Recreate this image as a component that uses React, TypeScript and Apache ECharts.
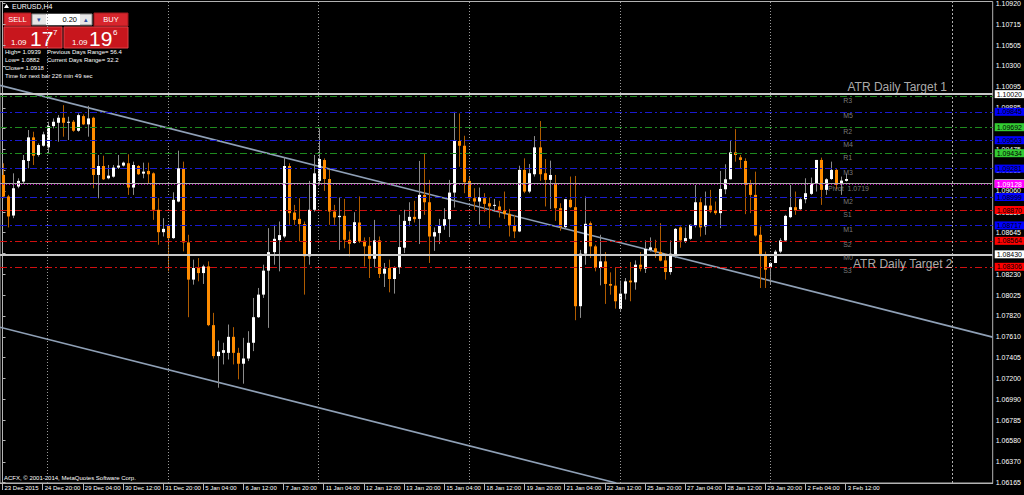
import React, { useEffect, useRef } from "react";
import * as echarts from "echarts";

// ---------- DATA (EURUSD H4 candles) ----------
const opens = [
  1.09218, 1.09004, 1.08815, 1.09103, 1.09152, 1.09357, 1.09591, 1.09416, 1.09508, 1.09492,
  1.09703, 1.09736, 1.09786, 1.09739, 1.09746, 1.09657, 1.09802, 1.0972, 1.09786, 1.09218,
  1.09307, 1.09185, 1.09201, 1.09291, 1.09311, 1.09334, 1.09093, 1.09307, 1.09231, 1.09258,
  1.09234, 1.08872, 1.0865, 1.08713, 1.08591, 1.08954, 1.09284, 1.08548, 1.08179, 1.08294,
  1.08244, 1.0831, 1.07727, 1.0742, 1.07452, 1.07452, 1.07611, 1.07452, 1.07344, 1.07396,
  1.07552, 1.07806, 1.0803, 1.08268, 1.08452, 1.08571, 1.08607, 1.09307, 1.08845, 1.08782,
  1.0873, 1.0841, 1.08872, 1.09159, 1.09366, 1.09178, 1.08855, 1.08799, 1.08812, 1.08574,
  1.08542, 1.08746, 1.08565, 1.08515, 1.08386, 1.08568, 1.08238, 1.08294, 1.08185, 1.08301,
  1.08496, 1.08762, 1.08802, 1.08782, 1.0902, 1.08947, 1.08607, 1.08641, 1.08713, 1.08779,
  1.09043, 1.09555, 1.09508, 1.09159, 1.08987, 1.08954, 1.08987, 1.08937, 1.08914, 1.08905,
  1.08865, 1.08832, 1.08713, 1.08657, 1.09268, 1.09053, 1.09225, 1.09492, 1.09235, 1.09169,
  1.09129, 1.08888, 1.087, 1.08971, 1.08898, 1.07915, 1.08436, 1.08739, 1.08509, 1.08294,
  1.0836, 1.08136, 1.08119, 1.07888, 1.0804, 1.08169, 1.08152, 1.08327, 1.08287, 1.08474,
  1.0849, 1.08452, 1.0837, 1.08254, 1.08426, 1.08697, 1.08558, 1.08584, 1.08713, 1.08947,
  1.08707, 1.08914, 1.08865, 1.08839, 1.09076, 1.09175, 1.09442, 1.09393, 1.09357, 1.09126,
  1.0902, 1.08624, 1.08426, 1.08294, 1.08344, 1.08457, 1.08568, 1.08799, 1.08898, 1.08878,
  1.08977, 1.0903, 1.09136, 1.09367, 1.0907, 1.09178, 1.09268, 1.09126, 1.09159,
];
const highs = [
  1.09334, 1.0902, 1.09234, 1.09185, 1.09416, 1.09664, 1.09647, 1.09531, 1.09647, 1.09746,
  1.09779, 1.09812, 1.09911, 1.09796, 1.09763, 1.09829, 1.09819, 1.09904, 1.09796, 1.09416,
  1.09409, 1.09317, 1.09317, 1.09416, 1.0935, 1.09423, 1.0935, 1.09317, 1.0934, 1.0934,
  1.09244, 1.08987, 1.08789, 1.08723, 1.09046, 1.09459, 1.0935, 1.08624, 1.08377, 1.08393,
  1.08327, 1.0836, 1.07849, 1.07575, 1.07552, 1.07733, 1.07707, 1.07502, 1.07601, 1.07667,
  1.07997, 1.08096, 1.08327, 1.0869, 1.08723, 1.08756, 1.09393, 1.09334, 1.08921, 1.08987,
  1.08756, 1.09159, 1.09416, 1.0968, 1.09383, 1.09268, 1.08921, 1.08994, 1.0898, 1.08657,
  1.08848, 1.09004, 1.08598, 1.08601, 1.08772, 1.08607, 1.08344, 1.08377, 1.0831, 1.08822,
  1.08872, 1.08947, 1.08961, 1.09357, 1.09426, 1.09169, 1.08697, 1.08782, 1.08888, 1.09169,
  1.09845, 1.09829, 1.09607, 1.09202, 1.09086, 1.09093, 1.09037, 1.08994, 1.0898, 1.08961,
  1.09053, 1.08881, 1.08822, 1.0931, 1.09383, 1.09327, 1.09604, 1.09753, 1.09376, 1.0936,
  1.09218, 1.08937, 1.0898, 1.09202, 1.09208, 1.08474, 1.09004, 1.08756, 1.08525, 1.08624,
  1.08452, 1.08251, 1.08294, 1.08169, 1.08195, 1.08353, 1.0837, 1.08452, 1.08568, 1.08598,
  1.08574, 1.08739, 1.08442, 1.08568, 1.0869, 1.08707, 1.08697, 1.08726, 1.09119, 1.08987,
  1.09053, 1.0907, 1.08954, 1.09258, 1.09324, 1.09565, 1.09673, 1.09416, 1.09383, 1.09169,
  1.09251, 1.08707, 1.08457, 1.08353, 1.08474, 1.08591, 1.08822, 1.09119, 1.09053, 1.08987,
  1.09185, 1.09192, 1.09367, 1.0939, 1.09185, 1.0935, 1.09277, 1.09202, 1.09228,
];
const lows = [
  1.08987, 1.08697, 1.08789, 1.09086, 1.09135, 1.09284, 1.09317, 1.094, 1.09499, 1.09432,
  1.0968, 1.09548, 1.09598, 1.09565, 1.09647, 1.09647, 1.09713, 1.09598, 1.09086, 1.08987,
  1.09168, 1.09175, 1.09192, 1.09277, 1.09301, 1.0902, 1.0902, 1.09218, 1.09185, 1.09135,
  1.08772, 1.08525, 1.08607, 1.08261, 1.08584, 1.08947, 1.08459, 1.07806, 1.08129, 1.08162,
  1.08136, 1.07717, 1.07396, 1.07106, 1.07337, 1.07386, 1.07337, 1.07189, 1.07146, 1.0737,
  1.07469, 1.07799, 1.07997, 1.077, 1.08327, 1.08261, 1.08591, 1.08723, 1.08723, 1.08558,
  1.0803, 1.08327, 1.08855, 1.09119, 1.0906, 1.08723, 1.08723, 1.08474, 1.0849, 1.0841,
  1.08535, 1.08542, 1.0831, 1.08195, 1.08301, 1.08195, 1.08106, 1.08053, 1.0804, 1.08235,
  1.08442, 1.08707, 1.08746, 1.08532, 1.08822, 1.08344, 1.08464, 1.08532, 1.08674, 1.08601,
  1.08895, 1.093, 1.09037, 1.08971, 1.08872, 1.08726, 1.08848, 1.0869, 1.08855, 1.08796,
  1.08782, 1.08607, 1.08591, 1.0865, 1.09037, 1.09037, 1.09202, 1.09159, 1.08905, 1.08881,
  1.08762, 1.08664, 1.0869, 1.08888, 1.07776, 1.07799, 1.08327, 1.08393, 1.08261, 1.08122,
  1.07938, 1.0803, 1.07891, 1.07865, 1.07981, 1.07964, 1.08079, 1.08261, 1.08245, 1.08457,
  1.08393, 1.0836, 1.08179, 1.08228, 1.08393, 1.08496, 1.08542, 1.08574, 1.08697, 1.08607,
  1.08624, 1.08839, 1.08822, 1.0869, 1.09027, 1.09175, 1.0935, 1.09277, 1.08829, 1.08839,
  1.08607, 1.08096, 1.08096, 1.08136, 1.08344, 1.08442, 1.08558, 1.08789, 1.08822, 1.08872,
  1.08937, 1.0902, 1.09053, 1.08921, 1.0902, 1.09169, 1.09079, 1.0902, 1.09152,
];
const closes = [
  1.09004, 1.08806, 1.09086, 1.09159, 1.09366, 1.09591, 1.09409, 1.09515, 1.09621, 1.09703,
  1.09746, 1.09786, 1.09736, 1.09746, 1.09657, 1.09812, 1.0972, 1.09779, 1.09218, 1.09307,
  1.09175, 1.09211, 1.09291, 1.09311, 1.0934, 1.09093, 1.09317, 1.09225, 1.09251, 1.09225,
  1.08872, 1.0865, 1.08683, 1.08591, 1.08971, 1.09284, 1.08548, 1.08179, 1.08294, 1.08244,
  1.0831, 1.07727, 1.0742, 1.07463, 1.07479, 1.07611, 1.07452, 1.07344, 1.07396, 1.07552,
  1.07806, 1.0803, 1.08268, 1.08452, 1.08584, 1.08621, 1.09307, 1.08839, 1.08772, 1.0873,
  1.0841, 1.08872, 1.09234, 1.09376, 1.09178, 1.08855, 1.08796, 1.08812, 1.08574, 1.08535,
  1.08749, 1.08558, 1.08509, 1.08386, 1.08568, 1.08235, 1.08287, 1.08185, 1.08304, 1.08502,
  1.08762, 1.08802, 1.08779, 1.0902, 1.08947, 1.08607, 1.0865, 1.08716, 1.08779, 1.09043,
  1.09555, 1.09508, 1.09145, 1.08987, 1.08954, 1.08997, 1.08931, 1.08905, 1.08921, 1.08865,
  1.08829, 1.08716, 1.08657, 1.09268, 1.09053, 1.09235, 1.09492, 1.09225, 1.09169, 1.09218,
  1.08888, 1.087, 1.08977, 1.08898, 1.07915, 1.08436, 1.08733, 1.08509, 1.08294, 1.0836,
  1.08136, 1.08119, 1.07964, 1.0804, 1.08162, 1.08152, 1.08327, 1.08287, 1.08483, 1.08499,
  1.08452, 1.08367, 1.08254, 1.08436, 1.08683, 1.08568, 1.08591, 1.08723, 1.08947, 1.08697,
  1.08914, 1.08855, 1.08839, 1.09079, 1.09175, 1.09442, 1.09416, 1.09367, 1.09119, 1.0902,
  1.08617, 1.08426, 1.08277, 1.08344, 1.08457, 1.08568, 1.08812, 1.08898, 1.08865, 1.08977,
  1.09037, 1.09136, 1.09367, 1.0907, 1.09175, 1.09268, 1.09119, 1.09162, 1.09178,
];

const dateLabels = [
  "23 Dec 2015", "24 Dec 20:00", "29 Dec 04:00", "30 Dec 12:00", "31 Dec 20:00", "5 Jan 04:00",
  "6 Jan 12:00", "7 Jan 20:00", "11 Jan 04:00", "12 Jan 12:00", "13 Jan 20:00", "15 Jan 04:00",
  "18 Jan 12:00", "19 Jan 20:00", "21 Jan 04:00", "22 Jan 12:00", "25 Jan 20:00", "27 Jan 04:00",
  "28 Jan 12:00", "29 Jan 20:00", "2 Feb 04:00", "3 Feb 12:00",
];
const barsPerDateLabel = 8;

const yTickValues = [
  1.1092, 1.10715, 1.10505, 1.103, 1.10095, 1.09885, 1.0968, 1.09475, 1.09265, 1.0906, 1.0885,
  1.08645, 1.0844, 1.0823, 1.08025, 1.0782, 1.0761, 1.07405, 1.072, 1.0699, 1.06785, 1.0658,
  1.0637, 1.06165,
];

const pivotNames = ["R3", "M5", "R2", "M4", "R1", "M3", "Pivot  1.0719", "M2", "S1", "M1", "S2", "M0", "S3"];
const pivotValues = [1.09998, 1.09845, 1.09692, 1.09563, 1.09434, 1.09281, 1.09128, 1.08999, 1.0887, 1.08717, 1.08564, 1.08435, 1.08306];
const pivotKinds = ["R", "M", "R", "M", "R", "M", "P", "M", "S", "M", "S", "M", "S"];
const pivotTagShown = [false, true, true, true, true, true, true, true, true, true, true, false, true];

const atrNames = ["ATR Daily Target 1", "ATR Daily Target 2"];
const atrValues = [1.1002, 1.0843];
const bidPrice = 1.09135;

const weekSeparatorBars = [9, 33, 63, 93, 123, 153];
const extraVerticalBar = 189.2;

const upperChannel = [[-0.5, 1.10107], [197.3, 1.07608]];
const lowerChannel = [[-0.5, 1.07707], [122.3, 1.0616]];

// ---------- LAYOUT / STYLE ----------
const X_MIN = -0.5;
const X_MAX = 197.3;
const Y_MIN = 1.0616;
const Y_MAX = 1.1094;
const FONT = '"Liberation Sans", Arial, sans-serif';

const kindLine: Record<string, string> = { R: "#1f8a1f", M: "#1a1ad0", S: "#d01010", P: "#c000c0" };
const kindTag: Record<string, string> = { R: "#33cc33", M: "#0000ff", S: "#ff0000", P: "#ff00ff" };
const kindTagText: Record<string, string> = { R: "#000000", M: "#000000", S: "#000000", P: "#ffffff" };

export default function App() {
  const ref = useRef<HTMLDivElement>(null);

  useEffect(() => {
    if (!ref.current) return;
    const chart = echarts.init(ref.current, undefined, { renderer: "svg" });

    const candleData = opens.map((o, i) => [i, o, highs[i], lows[i], closes[i]]);
    const dateIdx = dateLabels.map((_, k) => k * barsPerDateLabel);

    const tag = (v: number, bg: string, fg: string, show = true) => ({
      show,
      position: "end",
      distance: 2,
      formatter: v.toFixed(5),
      backgroundColor: bg,
      color: fg,
      fontSize: 7,
      fontFamily: FONT,
      padding: [1, 2, 0, 2],
    });

    const hLines: any[] = [];
    pivotValues.forEach((v, k) => {
      const kind = pivotKinds[k];
      hLines.push({
        yAxis: v,
        lineStyle: {
          color: kindLine[kind],
          width: 1,
          type: kind === "P" ? [1, 2] : [7, 3, 2, 3],
        },
        label: tag(v, kindTag[kind], kindTagText[kind], pivotTagShown[k]),
      });
    });
    hLines.push({
      yAxis: bidPrice,
      lineStyle: { color: "#a8a8a8", width: 1, type: "solid" },
      label: tag(bidPrice, "#ffffff", "#000000"),
    });
    // pivot tag drawn again above bid tag
    hLines.push({
      yAxis: pivotValues[6],
      lineStyle: { color: kindLine.P, width: 1, type: [1, 2] },
      label: tag(pivotValues[6], kindTag.P, kindTagText.P),
    });
    atrValues.forEach((v) => {
      hLines.push({
        yAxis: v,
        lineStyle: { color: "#c8c8c8", width: 2, type: "solid" },
        label: tag(v, "#ffffff", "#000000"),
      });
    });

    const vLines: any[] = weekSeparatorBars.map((b) => ({
      xAxis: b,
      lineStyle: { color: "#9a9a9a", width: 1, type: [1, 2] },
      label: { show: false },
    }));
    vLines.push({
      xAxis: extraVerticalBar,
      lineStyle: { color: "#b0b0b0", width: 1, type: [2, 2] },
      label: { show: false },
    });

    const pivotLabelX = [167.4, 167.4, 167.4, 167.4, 167.4, 167.4, 164.4, 167.4, 167.4, 167.4, 167.4, 167.4, 167.4];
    const pivotLabelData = pivotNames.map((n, k) => ({
      value: [pivotLabelX[k], pivotValues[k]],
      label: {
        show: true,
        formatter: n,
        position: "right",
        distance: 0,
        offset: [0, 4],
        color: "#9a9a9a",
        fontSize: 7,
        fontFamily: FONT,
      },
    }));
    const atrLabelX = [188.3, 189.4];
    const atrOffsets = [-7, 10];
    const atrLabelData = atrNames.map((n, k) => ({
      value: [atrLabelX[k], atrValues[k]],
      label: {
        show: true,
        formatter: n,
        position: "left",
        distance: 0,
        offset: [0, atrOffsets[k]],
        color: "#d8d8d8",
        fontSize: 12,
        fontFamily: FONT,
      },
    }));

    const txt = (x: number, y: number, text: string, size: number, extra: any = {}) => ({
      type: "text",
      x,
      y,
      silent: true,
      style: {
        text,
        fill: "#ffffff",
        font: `${size}px ${FONT}`,
        textVerticalAlign: "middle",
        ...extra,
      },
    });

    const option: any = {
      animation: false,
      backgroundColor: "#000000",
      grid: {
        left: 0,
        right: 27,
        top: 1,
        bottom: 12,
        show: true,
        borderColor: "#b4b4b4",
        borderWidth: 1,
        backgroundColor: "transparent",
      },
      xAxis: {
        type: "value",
        min: X_MIN,
        max: X_MAX,
        axisLine: { show: true, lineStyle: { color: "#b4b4b4" } },
        axisTick: {
          show: true,
          customValues: dateIdx,
          length: 7,
          lineStyle: { color: "#b4b4b4" },
        },
        axisLabel: {
          customValues: dateIdx,
          formatter: (v: number) => dateLabels[Math.round(v / barsPerDateLabel)] ?? "",
          align: "left",
          margin: 2,
          padding: [0, 0, 0, 2],
          color: "#ffffff",
          fontSize: 6,
          fontFamily: FONT,
        },
        splitLine: { show: false },
      },
      yAxis: {
        type: "value",
        position: "right",
        min: Y_MIN,
        max: Y_MAX,
        scale: true,
        axisLine: { show: true, lineStyle: { color: "#b4b4b4" } },
        axisTick: {
          show: true,
          customValues: yTickValues,
          length: 3,
          lineStyle: { color: "#b4b4b4" },
        },
        axisLabel: {
          customValues: yTickValues,
          formatter: (v: number) => v.toFixed(5),
          color: "#ffffff",
          fontSize: 7,
          fontFamily: FONT,
          margin: 3,
        },
        splitLine: { show: false },
      },
      series: [
        {
          type: "line",
          name: "upper channel",
          data: upperChannel,
          showSymbol: false,
          symbol: "none",
          lineStyle: { color: "#8fa0b6", width: 1.6 },
          silent: true,
          z: 3,
          markLine: {
            silent: true,
            symbol: ["none", "none"],
            precision: 5,
            animation: false,
            data: [...vLines, ...hLines],
          },
        },
        {
          type: "line",
          name: "lower channel",
          data: lowerChannel,
          showSymbol: false,
          symbol: "none",
          lineStyle: { color: "#8fa0b6", width: 1.6 },
          silent: true,
          z: 3,
        },
        {
          type: "custom",
          name: "EURUSD",
          data: candleData,
          encode: { x: 0, y: [1, 2, 3, 4] },
          z: 4,
          renderItem: (_p: any, api: any) => {
            const x = api.value(0);
            const o = api.value(1);
            const h = api.value(2);
            const l = api.value(3);
            const c = api.value(4);
            const pH = api.coord([x, h]);
            const pL = api.coord([x, l]);
            const pO = api.coord([x, o]);
            const pC = api.coord([x, c]);
            const bull = c >= o;
            const cx = Math.round(pH[0]) + 0.5;
            const top = Math.min(pO[1], pC[1]);
            const bot = Math.max(pO[1], pC[1]);
            return {
              type: "group",
              children: [
                {
                  type: "line",
                  shape: { x1: cx, y1: pH[1], x2: cx, y2: pL[1] },
                  style: { stroke: bull ? "#8c8c8c" : "#b05c00", lineWidth: 1 },
                },
                {
                  type: "rect",
                  shape: { x: cx - 1.5, y: top, width: 3, height: Math.max(1, bot - top) },
                  style: { fill: bull ? "#ffffff" : "#ff8c00" },
                },
              ],
            };
          },
        },
        {
          type: "scatter",
          name: "labels",
          symbolSize: 1,
          itemStyle: { color: "rgba(0,0,0,0)" },
          silent: true,
          z: 5,
          data: [...pivotLabelData, ...atrLabelData],
        },
      ],
      graphic: [
        { type: "polygon", silent: true, shape: { points: [[4, 8], [6.5, 4], [9, 8]] }, style: { fill: "#ffffff" } },
        txt(12, 6, "EURUSD,H4", 7),
        // SELL button
        { type: "rect", silent: true, shape: { x: 4, y: 13, width: 27, height: 13 }, style: { fill: "#d7252c", stroke: "#a01a1f", lineWidth: 1 } },
        txt(17.5, 19.5, "SELL", 7.5, { textAlign: "center" }),
        // lot spinner
        { type: "rect", silent: true, shape: { x: 32, y: 14, width: 60, height: 11 }, style: { fill: "#e6e6e6", stroke: "#8a8a8a", lineWidth: 1 } },
        { type: "rect", silent: true, shape: { x: 46, y: 14, width: 34, height: 11 }, style: { fill: "#ffffff" } },
        txt(39, 19.5, "▾", 7, { textAlign: "center", fill: "#3050a0" }),
        txt(86, 19.5, "▴", 7, { textAlign: "center", fill: "#3050a0" }),
        txt(77, 19.5, "0.20", 7.5, { textAlign: "right", fill: "#000000" }),
        // BUY button
        { type: "rect", silent: true, shape: { x: 94, y: 13, width: 34, height: 13 }, style: { fill: "#d7252c", stroke: "#a01a1f", lineWidth: 1 } },
        txt(111, 19.5, "BUY", 7.5, { textAlign: "center" }),
        // price boxes
        { type: "rect", silent: true, shape: { x: 4, y: 27, width: 58, height: 21 }, style: { fill: "#c8161d", stroke: "#e04048", lineWidth: 1 } },
        { type: "rect", silent: true, shape: { x: 64, y: 27, width: 64, height: 21 }, style: { fill: "#c8161d", stroke: "#e04048", lineWidth: 1 } },
        txt(11, 42, "1.09", 8),
        txt(30, 38.5, "17", 21),
        txt(53, 32, "7", 8),
        txt(72, 42, "1.09", 8),
        txt(89, 38.5, "19", 21),
        txt(113, 32, "6", 8),
        // info lines
        txt(5, 52, "High= 1.0939", 6),
        txt(47, 52, "Previous Days Range= 56.4", 6),
        txt(5, 60, "Low= 1.0882", 6),
        txt(47, 60, "Current Days Range= 32.2", 6),
        txt(5, 68, "Close= 1.0918", 6),
        txt(5, 76, "Time for next bar 226 min 49 sec", 6),
        // copyright
        txt(4, 478, "ACFX, © 2001-2014, MetaQuotes Software Corp.", 6),
      ],
    };

    chart.setOption(option);
    return () => chart.dispose();
  }, []);

  return (
    <div
      ref={ref}
      style={{ position: "fixed", left: 0, top: 0, width: 1024, height: 495, background: "#000" }}
    />
  );
}
